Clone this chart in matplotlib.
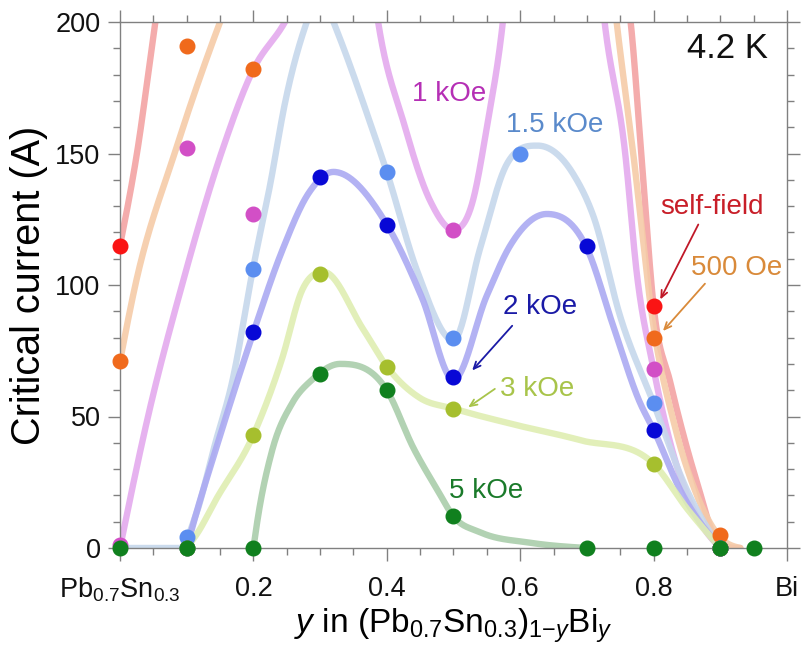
import numpy as np
import matplotlib
matplotlib.use("Agg")
import matplotlib.pyplot as plt
from matplotlib.ticker import MultipleLocator

plt.rcParams['font.family'] = ['Liberation Sans', 'DejaVu Sans']
plt.rcParams['mathtext.fontset'] = 'custom'
plt.rcParams['mathtext.rm'] = 'Liberation Sans'
plt.rcParams['mathtext.it'] = 'Liberation Sans:italic'
plt.rcParams['mathtext.bf'] = 'Liberation Sans:bold'

# ---------------- measured critical currents (A) vs Bi fraction y ----------------
sf_y = [0.0, 0.8, 0.9]
sf_ic = [115, 92, 0]

oe500_y = [0.0, 0.1, 0.2, 0.8, 0.9]
oe500_ic = [71, 191, 182, 80, 5]

k1_y = [0.0, 0.1, 0.2, 0.5, 0.8, 0.9]
k1_ic = [1, 152, 127, 121, 68, 0]

k15_y = [0.1, 0.2, 0.4, 0.5, 0.6, 0.8, 0.9]
k15_ic = [4, 106, 143, 80, 150, 55, 0]

k2_y = [0.1, 0.2, 0.3, 0.4, 0.5, 0.7, 0.8, 0.9]
k2_ic = [0, 82, 141, 123, 65, 115, 45, 0]

k3_y = [0.1, 0.2, 0.3, 0.4, 0.5, 0.8, 0.9]
k3_ic = [0, 43, 104, 69, 53, 32, 0]

k5_y = [0.0, 0.1, 0.2, 0.3, 0.4, 0.5, 0.7, 0.8, 0.9, 0.95]
k5_ic = [0, 0, 0, 66, 60, 12, 0, 0, 0, 0]

# ---------------- guide-curve knots (segments; values above 200 run off the top) ----------------
sf_fit_y = [[0.0, 0.026, 0.053, 0.065],
            [0.760, 0.766, 0.783, 0.8, 0.825, 0.865, 0.895, 0.93]]
sf_fit_ic = [[115, 151, 200, 220],
             [212, 199, 145, 92, 63, 25, 3, 0]]

oe500_fit_y = [[0.0, 0.023, 0.083, 0.15, 0.165],
               [0.740, 0.745, 0.769, 0.8, 0.83, 0.865, 0.9, 0.93]]
oe500_fit_ic = [[71, 100, 151, 200, 210],
                [210, 199, 151, 84, 48, 20, 4, 0]]

k1_fit_y = [[0.0, 0.042, 0.093, 0.153, 0.2, 0.245, 0.265],
            [0.380, 0.387, 0.425, 0.465, 0.5, 0.529, 0.55, 0.574, 0.579],
            [0.722, 0.727, 0.757, 0.775, 0.8, 0.835, 0.865, 0.9]]
k1_fit_ic = [[0, 50, 100, 151, 182, 199, 208],
             [212, 200, 162, 132, 121, 132, 160, 200, 212],
             [210, 199, 151, 104, 68, 31, 12, 0]]

k15_fit_y = [[0.0, 0.09, 0.113, 0.143, 0.168, 0.2, 0.225, 0.248, 0.28, 0.3,
              0.32, 0.38, 0.4, 0.446, 0.5, 0.54, 0.58, 0.626, 0.68, 0.71,
              0.75, 0.8, 0.85, 0.9]]
k15_fit_ic = [[0, 0, 12, 40, 63, 107, 138, 170, 200, 212,
               200, 158, 143, 105, 79, 114, 146, 153, 142, 126,
               88, 55, 22, 0]]

k2_fit_y = [[0.1, 0.113, 0.143, 0.2, 0.243, 0.283, 0.32, 0.4, 0.453, 0.5,
             0.55, 0.585, 0.64, 0.7, 0.74, 0.78, 0.8, 0.84, 0.9]]
k2_fit_ic = [[0, 12, 37, 82, 113, 135, 143, 123, 95, 64,
              96, 115, 127, 114, 84, 55, 45, 22, 0]]

k3_fit_y = [[0.1, 0.117, 0.143, 0.2, 0.243, 0.273, 0.305, 0.365, 0.4, 0.45,
             0.5, 0.59, 0.69, 0.8, 0.85, 0.9]]
k3_fit_ic = [[0, 6, 18, 43, 72, 98, 105, 83, 69, 57,
              53, 47, 41, 32, 15, 0]]

k5_fit_y = [[0.2, 0.207, 0.228, 0.258, 0.288, 0.33, 0.4, 0.44, 0.476, 0.5,
             0.54, 0.615, 0.7]]
k5_fit_ic = [[0, 12, 37, 55, 64, 70, 60, 38, 22, 12,
              6, 2, 0]]

x_tick_pos = [0.0, 0.2, 0.4, 0.6, 0.8, 1.0]
x_tick_labels = [r'Pb$_{0.7}$Sn$_{0.3}$', '0.2', '0.4', '0.6', '0.8', 'Bi']
y_tick_pos = [0, 50, 100, 150, 200]


def smooth_through(xk, yk, xs):
    """Cubic Hermite curve through the knots; central slopes, limited so
    that no segment overshoots its end values."""
    xk = np.asarray(xk, float)
    yk = np.asarray(yk, float)
    h = np.diff(xk)
    delta = np.diff(yk) / h
    n = len(xk)
    d = np.zeros(n)
    for k in range(1, n - 1):
        if delta[k - 1] * delta[k] > 0:
            c = (h[k] * delta[k - 1] + h[k - 1] * delta[k]) / (h[k - 1] + h[k])
            lim = 3 * min(abs(delta[k - 1]), abs(delta[k]))
            d[k] = np.sign(c) * min(abs(c), lim)
    d[0] = delta[0]
    d[-1] = delta[-1]
    if n > 2:
        d[0] = np.sign(delta[0]) * min(abs(1.5 * delta[0] - 0.5 * d[1]), 3 * abs(delta[0])) \
            if delta[0] * (1.5 * delta[0] - 0.5 * d[1]) > 0 else 0.0
        d[-1] = np.sign(delta[-1]) * min(abs(1.5 * delta[-1] - 0.5 * d[-2]), 3 * abs(delta[-1])) \
            if delta[-1] * (1.5 * delta[-1] - 0.5 * d[-2]) > 0 else 0.0
    idx = np.clip(np.searchsorted(xk, xs) - 1, 0, n - 2)
    t = (xs - xk[idx]) / h[idx]
    h00 = 2 * t**3 - 3 * t**2 + 1
    h10 = t**3 - 2 * t**2 + t
    h01 = -2 * t**3 + 3 * t**2
    h11 = t**3 - t**2
    return (h00 * yk[idx] + h10 * h[idx] * d[idx]
            + h01 * yk[idx + 1] + h11 * h[idx] * d[idx + 1])


series = [
    # points x, points y, knots x, knots y, line colour, dot colour
    (sf_y, sf_ic, sf_fit_y, sf_fit_ic, '#f3a3a3', '#fa1414'),
    (oe500_y, oe500_ic, oe500_fit_y, oe500_fit_ic, '#f5cba8', '#f06a1c'),
    (k1_y, k1_ic, k1_fit_y, k1_fit_ic, '#e4aaee', '#d24fc6'),
    (k15_y, k15_ic, k15_fit_y, k15_fit_ic, '#c6d7ec', '#5b8ef0'),
    (k2_y, k2_ic, k2_fit_y, k2_fit_ic, '#abaaf2', '#0808d6'),
    (k3_y, k3_ic, k3_fit_y, k3_fit_ic, '#dfeeb2', '#a6bf2e'),
    (k5_y, k5_ic, k5_fit_y, k5_fit_ic, '#aacdab', '#10801e'),
]

fig = plt.figure(figsize=(8.03, 6.51), dpi=100)
ax = fig.add_axes([120 / 803, 103 / 651, 667 / 803, 526 / 651])

for _, _, fx, fy, lc, _ in series:
    for seg_x, seg_y in zip(fx, fy):
        xs = np.linspace(seg_x[0], seg_x[-1], 600)
        ax.plot(xs, smooth_through(seg_x, seg_y, xs), color=lc, lw=4.6,
                alpha=0.9, solid_capstyle='round', zorder=2)

for px, py, _, _, _, dc in series:
    ax.plot(px, py, 'o', color=dc, ms=10.5, mec=dc, zorder=4, clip_on=False)

ax.set_xlim(0, 1)
ax.set_ylim(0, 200)
ax.set_xticks(x_tick_pos)
ax.set_xticklabels(x_tick_labels)
ax.set_yticks(y_tick_pos)
ax.xaxis.set_minor_locator(MultipleLocator(0.05))
ax.yaxis.set_minor_locator(MultipleLocator(10))
ax.tick_params(which='both', direction='out', top=True, right=True,
               color='#808080', width=1, labelsize=19.5, labelcolor='#111111')
ax.tick_params(which='major', length=9)
ax.tick_params(which='minor', length=5)
ax.tick_params(axis='x', which='major', pad=11)
ax.tick_params(axis='y', which='major', pad=5)
for sp in ax.spines.values():
    sp.set_color('#808080')
    sp.set_linewidth(1.0)

ax.set_ylabel('Critical current (A)', fontsize=28.5)
ax.yaxis.set_label_coords(-0.108, 0.5)
ax.set_xlabel(r'$y$ in (Pb$_{0.7}$Sn$_{0.3}$)$_{1\mathrm{-}y}$Bi$_{y}$', fontsize=24)
ax.xaxis.set_label_coords(0.5, -0.112)

ax.text(0.91, 0.95, '4.2 K', transform=ax.transAxes, ha='center', va='center',
        fontsize=25, color='#111111')

labels = [
    ('1 kOe', 0.494, 172.5, '#b52fb5'),
    ('1.5 kOe', 0.652, 161.0, '#5a8acb'),
    ('self-field', 0.888, 129.5, '#c81e28'),
    ('500 Oe', 0.924, 106.5, '#d98a3a'),
    ('2 kOe', 0.630, 91.5, '#1a1aa6'),
    ('3 kOe', 0.625, 60.5, '#a8c44a'),
    ('5 kOe', 0.549, 21.5, '#1a7a2a'),
]
for txt, lx, ly, c in labels:
    ax.text(lx, ly, txt, ha='center', va='center', fontsize=20, color=c, zorder=5)

arrows = [
    ((0.867, 123.0), (0.810, 94.5), '#c01828'),
    ((0.877, 100.5), (0.814, 82.5), '#d98a3a'),
    ((0.588, 84.5), (0.528, 67.5), '#1a1aa6'),
    ((0.562, 60.5), (0.522, 53.5), '#a8c44a'),
]
for start, end, c in arrows:
    ax.annotate('', xy=end, xytext=start,
                arrowprops=dict(arrowstyle='->,head_length=0.5,head_width=0.22',
                                color=c, lw=1.3, shrinkA=0, shrinkB=0),
                zorder=5)

fig.savefig('out.png', dpi=100)
